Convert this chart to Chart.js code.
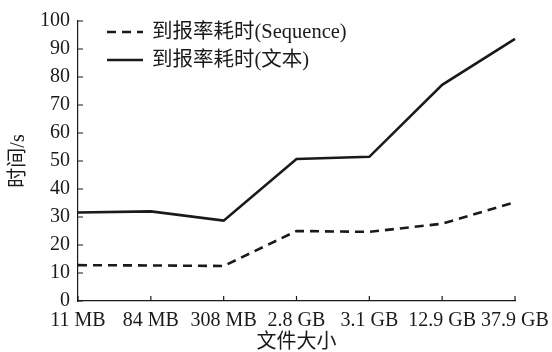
<!DOCTYPE html>
<html>
<head>
<meta charset="utf-8">
<script src="https://cdn.jsdelivr.net/npm/chart.js@4"></script>
<style>
  html, body { margin: 0; padding: 0; background: #fff; }
  #wrap { width: 552px; height: 352px; }
</style>
</head>
<body>
<div id="wrap"><canvas id="chart" width="552" height="352"></canvas></div>
<script>
const categories = ['11 MB', '84 MB', '308 MB', '2.8 GB', '3.1 GB', '12.9 GB', '37.9 GB'];
const sequenceTimes = [12.8, 12.7, 12.5, 25.0, 24.7, 27.6, 35.3];
const textTimes = [31.6, 32.0, 28.7, 50.7, 51.5, 77.2, 93.6];
const seriesNames = ['到报率耗时(Sequence)', '到报率耗时(文本)'];

const FONT = "'Liberation Serif', 'Noto Sans CJK SC', serif";
const INK = '#1a1a1a';

// inward tick marks + legend drawn inside the plot
const extras = {
  id: 'extras',
  afterDraw(chart) {
    const ctx = chart.ctx;
    const x = chart.scales.x, y = chart.scales.y;
    const area = chart.chartArea;
    ctx.save();
    ctx.strokeStyle = INK;
    ctx.lineWidth = 1.2;
    ctx.beginPath();
    x.ticks.forEach((t, i) => {
      const px = x.getPixelForTick(i);
      ctx.moveTo(px, area.bottom);
      ctx.lineTo(px, area.bottom - 5);
    });
    y.ticks.forEach((t, i) => {
      const py = y.getPixelForTick(i);
      ctx.moveTo(area.left, py);
      ctx.lineTo(area.left + 5, py);
    });
    ctx.stroke();

    // legend
    const rows = [32, 60];
    chart.data.datasets.forEach((ds, i) => {
      ctx.beginPath();
      ctx.lineWidth = ds.borderWidth;
      ctx.strokeStyle = ds.borderColor;
      ctx.setLineDash(ds.borderDash || []);
      ctx.moveTo(107, rows[i]);
      ctx.lineTo(143, rows[i]);
      ctx.stroke();
      ctx.setLineDash([]);
      ctx.fillStyle = INK;
      ctx.font = '20.5px ' + FONT;
      ctx.textBaseline = 'middle';
      ctx.textAlign = 'left';
      ctx.fillText(ds.label, 152, rows[i] + 1);
    });
    ctx.restore();
  }
};

new Chart(document.getElementById('chart'), {
  type: 'line',
  data: {
    labels: categories,
    datasets: [
      {
        label: seriesNames[0],
        data: sequenceTimes,
        borderColor: INK,
        borderWidth: 2.6,
        borderDash: [9, 6],
        pointRadius: 0,
        tension: 0,
        fill: false
      },
      {
        label: seriesNames[1],
        data: textTimes,
        borderColor: INK,
        borderWidth: 2.6,
        pointRadius: 0,
        tension: 0,
        fill: false
      }
    ]
  },
  options: {
    responsive: false,
    animation: false,
    devicePixelRatio: 1,
    layout: { padding: { top: 21, right: 37, left: 0, bottom: 0 } },
    plugins: {
      legend: { display: false },
      tooltip: { enabled: false }
    },
    scales: {
      x: {
        offset: false,
        grid: { display: false, drawTicks: false },
        border: { display: true, color: INK, width: 1.2 },
        ticks: {
          color: INK,
          font: { family: FONT, size: 20 },
          padding: 8,
          autoSkip: false,
          maxRotation: 0
        },
        title: {
          display: true,
          text: '文件大小',
          color: INK,
          font: { family: FONT, size: 20 },
          padding: { top: 0, bottom: -3 }
        },
        afterFit(scale) {
          scale.height = 51;
          scale.paddingLeft = 0;
          scale.paddingRight = 0;
        }
      },
      y: {
        min: 0,
        max: 100,
        grid: { display: false, drawTicks: false },
        border: { display: true, color: INK, width: 1.2 },
        ticks: {
          stepSize: 10,
          color: INK,
          font: { family: FONT, size: 20 },
          padding: 8
        },
        title: {
          display: true,
          text: '时间/s',
          color: INK,
          font: { family: FONT, size: 20 },
          padding: { top: 7, bottom: 0 }
        },
        afterFit(scale) { scale.width = 78; }
      }
    }
  },
  plugins: [extras]
});
</script>
</body>
</html>
